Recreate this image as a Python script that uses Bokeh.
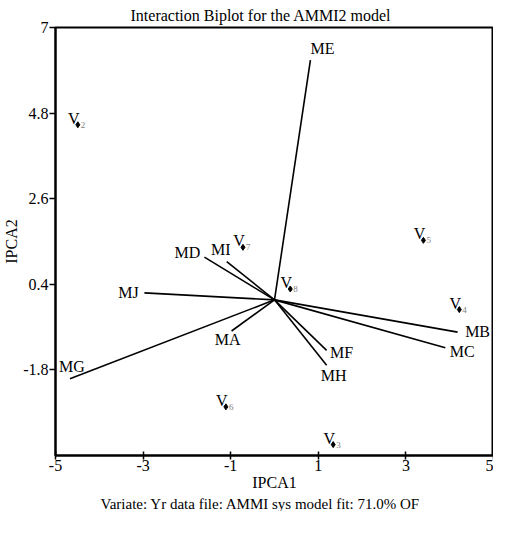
from bokeh.plotting import figure
from bokeh.models import ColumnDataSource, FixedTicker, Title
from bokeh.core.properties import value
from bokeh.embed import file_html
from bokeh.resources import INLINE

# Environment (IPCA) vectors
env_names = ["ME", "MD", "MI", "MJ", "MA", "MG", "MF", "MH", "MB", "MC"]
env_ipca1 = [0.82, -1.60, -1.09, -2.97, -0.98, -4.67, 1.19, 1.19, 4.18, 3.90]
env_ipca2 = [6.16, 1.10, 0.98, 0.18, -0.80, -2.03, -1.30, -1.68, -0.83, -1.23]

# Genotype scores
gen_ids = ["2", "7", "8", "5", "4", "6", "3"]
gen_ipca1 = [-4.49, -0.72, 0.36, 3.40, 4.22, -1.11, 1.34]
gen_ipca2 = [4.50, 1.35, 0.28, 1.53, -0.25, -2.75, -3.72]

x_ticks = [-5, -3, -1, 1, 3, 5]
y_ticks = [7, 4.8, 2.6, 0.4, -1.8]

# label offsets (pixels, screen) for environment labels
env_label_dx = [12, -17, -6, -16, -4, 2, 15, 7, 20, 17]
env_label_dy = [-12, -5, -12, 0, 9, -12, 2, 10, -1, 4]

FONT = "Liberation Serif"

p = figure(width=493, height=511, x_range=(-5, 5), y_range=(-4, 7),
           output_backend="svg", toolbar_location=None,
           min_border_left=47, min_border_right=0, min_border_top=0, min_border_bottom=0)
p.background_fill_color = "white"
p.border_fill_color = "white"
p.outline_line_color = "black"
p.outline_line_width = 2
p.xgrid.visible = False
p.ygrid.visible = False

p.title.text = "Interaction Biplot for the AMMI2 model"
p.title.align = "left"
p.title.offset = 75
p.title.text_font = FONT
p.title.text_font_style = "normal"
p.title.text_font_size = "16px"
p.title.text_color = "black"
p.title.standoff = 8

footer = Title(text="Variate: Yr data file: AMMI sys model fit: 71.0% OF", align="left",
               offset=45, text_font=FONT, text_font_style="normal", text_font_size="15px",
               text_color="black", standoff=0, text_line_height=0.6)
p.add_layout(footer, "below")

for ax in (p.xaxis[0], p.yaxis[0]):
    ax.axis_line_width = 2
    ax.axis_line_color = "black"
    ax.major_tick_line_width = 1.5
    ax.major_tick_line_color = "black"
    ax.minor_tick_line_color = None
    ax.major_label_text_font = FONT
    ax.major_label_text_font_size = "16px"
    ax.major_label_text_color = "black"
    ax.axis_label_text_font = FONT
    ax.axis_label_text_font_size = "16px"
    ax.axis_label_text_font_style = "normal"
    ax.axis_label_text_color = "black"

p.xaxis.ticker = FixedTicker(ticks=x_ticks)
p.yaxis.ticker = FixedTicker(ticks=y_ticks)
# plain hyphen-minus labels, as in the original
p.xaxis.major_label_overrides = {t: str(t) for t in x_ticks}
p.yaxis.major_label_overrides = {t: str(t) for t in y_ticks}
p.xaxis.major_tick_in = 4
p.xaxis.major_tick_out = 4
p.yaxis.major_tick_in = 0
p.yaxis.major_tick_out = 6
p.xaxis.axis_label = "IPCA1"
p.yaxis.axis_label = "IPCA2"
p.xaxis.axis_label_standoff = 0
p.yaxis.axis_label_standoff = 0
p.xaxis.major_label_standoff = 0
p.yaxis.major_label_standoff = 1
p.yaxis.major_label_orientation = "horizontal"

# environment vectors
src_env = ColumnDataSource(dict(
    x0=[0] * len(env_names), y0=[0] * len(env_names),
    x1=env_ipca1, y1=env_ipca2, name=env_names,
    dx=env_label_dx, dy=env_label_dy))
p.segment(x0="x0", y0="y0", x1="x1", y1="y1", source=src_env,
          line_color="black", line_width=1.6)
p.text(x="x1", y="y1", text="name", source=src_env, x_offset="dx", y_offset="dy",
       text_align="center", text_baseline="middle", text_font=value(FONT),
       text_font_size="16px", text_color="black")

# genotype points
src_gen = ColumnDataSource(dict(x=gen_ipca1, y=gen_ipca2, sub=gen_ids,
                                v=["V"] * len(gen_ids)))
p.scatter(x="x", y="y", source=src_gen, marker="diamond", size=6,
          fill_color="black", line_color="black")
p.text(x="x", y="y", text="v", source=src_gen, x_offset=-4, y_offset=2,
       text_align="center", text_baseline="bottom", text_font=value(FONT),
       text_font_size="16px", text_color="black")
p.text(x="x", y="y", text="sub", source=src_gen, x_offset=3, y_offset=3,
       text_align="left", text_baseline="bottom", text_font=value(FONT),
       text_font_size="9px", text_color="#808080")

open("out.html", "w").write(file_html(p, INLINE))
